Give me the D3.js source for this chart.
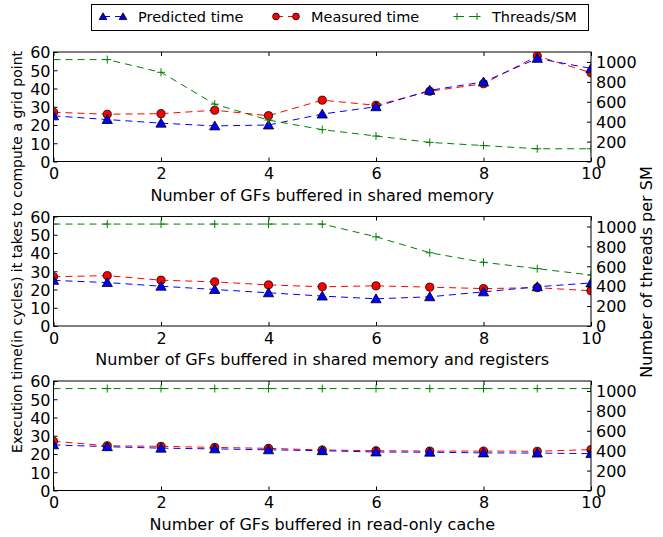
<!DOCTYPE html>
<html lang="en">
<head>
  <meta charset="utf-8">
  <title>GF buffering</title>
  <script src="https://cdn.jsdelivr.net/npm/d3@7/dist/d3.min.js"></script>
  <style type="text/css">
    body{ margin:0; background:#fff; }
    text{ font-family: "DejaVu Sans", sans-serif; }
  </style>
</head>
<body>
<script type="text/javascript">

var width = 663;
var height = 537;

// data
var gfCount = [0, 1, 2, 3, 4, 5, 6, 7, 8, 9, 10];
var panelLabels = [
  "Number of GFs buffered in shared memory",
  "Number of GFs buffered in shared memory and registers",
  "Number of GFs buffered in read-only cache"
];
var predictedTime = [
  [25, 23, 21, 19.5, 20, 26, 30, 39, 43.6, 56.5, 51],
  [25, 23.8, 21.8, 20, 18.2, 16.4, 14.9, 16, 18.7, 21.5, 23.6],
  [25, 24, 23.2, 22.8, 22.3, 21.8, 21.1, 21, 20.6, 20.5, 20.2]
];
var measuredTime = [
  [27, 25.9, 26.2, 28.1, 25.1, 33.6, 30.8, 38.5, 42.6, 57.8, 48.6],
  [27, 27.6, 25.1, 24.2, 22.5, 21.5, 22, 21.3, 20.5, 21, 19.3],
  [27, 24.5, 24.2, 23.6, 23.1, 22.2, 21.8, 21.6, 21.6, 21.5, 22.4]
];
var threadsPerSM = [
  [1024, 1024, 896, 576, 416, 320, 256, 192, 160, 128, 128],
  [1024, 1024, 1024, 1024, 1024, 1024, 896, 736, 640, 576, 512],
  [1024, 1024, 1024, 1024, 1024, 1024, 1024, 1024, 1024, 1024, 1024]
];
var xTicks = [0, 2, 4, 6, 8, 10];
var leftTicks = [0, 10, 20, 30, 40, 50, 60];
var rightTicks = [0, 200, 400, 600, 800, 1000];
var legendNames = ["Predicted time", "Measured time", "Threads/SM"];

var plotLeft = 53.5;
var plotRight = 591;
var panelTops = [52, 216.5, 381];
var panelH = 109.5;
var tickFont = 16;
var labelFont = 16;

var svg = d3.select("body")
  .append("svg")
  .attr("width", width)
  .attr("height", height);

var xScale = d3.scaleLinear().domain([0, 10]).range([plotLeft, plotRight]);

var dash = "7,5";
var triPath = d3.symbol().type(d3.symbolTriangle).size(46)();
var circPath = d3.symbol().type(d3.symbolCircle).size(52)();
var plusPath = "M-4,0H4M0,-4V4";
// smaller versions for the legend
var triSmall = d3.symbol().type(d3.symbolTriangle).size(26)();
var circSmall = d3.symbol().type(d3.symbolCircle).size(36)();
var plusSmall = "M-3.5,0H3.5M0,-3.5V3.5";

function markerStyle(sel, marker, color, isPlus){
  sel.attr("d", marker)
    .attr("fill", isPlus ? "none" : color)
    .attr("stroke", isPlus ? color : "#000")
    .attr("stroke-width", isPlus ? 1 : 0.8);
}

function drawSeries(g, vals, yScale, color, marker){
  var line = d3.line()
    .x(function(d, i){ return xScale(gfCount[i]); })
    .y(function(d){ return yScale(d); });
  g.append("path")
    .attr("d", line(vals))
    .attr("fill", "none")
    .attr("stroke", color)
    .attr("stroke-width", 1)
    .attr("stroke-dasharray", dash);
  g.selectAll(null)
    .data(vals)
    .enter()
    .append("path")
    .attr("transform", function(d, i){
      var dy = marker == triPath ? 1 : 0;
      return "translate(" + xScale(gfCount[i]) + "," + (yScale(d) + dy) + ")";
    })
    .call(markerStyle, marker, color, marker == plusPath);
}

panelTops.forEach(function(top, p){
  var bottom = top + panelH;
  var yLeft = d3.scaleLinear().domain([0, 60]).range([bottom, top]);
  var yRight = d3.scaleLinear().domain([0, 1100]).range([bottom, top]);

  var g = svg.append("g");

  var clipId = "clip" + p;
  svg.append("clipPath").attr("id", clipId)
    .append("rect")
    .attr("x", plotLeft).attr("y", top)
    .attr("width", plotRight - plotLeft).attr("height", panelH);

  var data = g.append("g").attr("clip-path", "url(#" + clipId + ")");
  drawSeries(data, measuredTime[p], yLeft, "#ff0000", circPath);
  drawSeries(data, predictedTime[p], yLeft, "#0000ff", triPath);
  drawSeries(data, threadsPerSM[p], yRight, "#008000", plusPath);

  // axes, ticks pointing inward
  var xb = g.append("g").attr("transform", "translate(0," + bottom + ")")
    .call(d3.axisBottom(xScale).tickValues(xTicks).tickSizeInner(-4).tickSizeOuter(0).tickPadding(5));
  var xt = g.append("g").attr("transform", "translate(0," + top + ")")
    .call(d3.axisTop(xScale).tickValues(xTicks).tickSizeInner(-4).tickSizeOuter(0).tickFormat(""));
  var yl = g.append("g").attr("transform", "translate(" + plotLeft + ",0)")
    .call(d3.axisLeft(yLeft).tickValues(leftTicks).tickSizeInner(-4).tickSizeOuter(0).tickPadding(3));
  var yr = g.append("g").attr("transform", "translate(" + plotRight + ",0)")
    .call(d3.axisRight(yRight).tickValues(rightTicks).tickFormat(d3.format("d"))
      .tickSizeInner(-4).tickSizeOuter(0).tickPadding(5));

  [xb, xt, yl, yr].forEach(function(a){
    a.select(".domain").remove();
    a.selectAll("text").attr("font-size", tickFont).attr("fill", "#000")
      .style("font-family", "DejaVu Sans, sans-serif");
    a.selectAll("line").attr("stroke", "#000");
  });
  xb.selectAll("text").attr("dy", "0.8em");
  yl.selectAll("text").attr("dy", "0.36em");
  yr.selectAll("text").attr("dy", "0.36em");

  g.append("rect")
    .attr("x", plotLeft).attr("y", top)
    .attr("width", plotRight - plotLeft).attr("height", panelH)
    .attr("fill", "none").attr("stroke", "#000").attr("stroke-width", 1);

  g.append("text")
    .attr("x", (plotLeft + plotRight) / 2)
    .attr("y", bottom + 39)
    .attr("text-anchor", "middle")
    .attr("font-size", labelFont)
    .text(panelLabels[p]);
});

// y labels
svg.append("text")
  .attr("transform", "translate(21.5,252) rotate(-90)")
  .attr("text-anchor", "middle")
  .attr("font-size", 14)
  .text("Execution time(in cycles) it takes to compute a grid point");
svg.append("text")
  .attr("transform", "translate(652,272) rotate(-90)")
  .attr("text-anchor", "middle")
  .attr("font-size", labelFont)
  .text("Number of threads per SM");

// legend
var legend = svg.append("g");
legend.append("rect")
  .attr("x", 91.5).attr("y", 4.5)
  .attr("width", 497).attr("height", 26)
  .attr("fill", "#fff").attr("stroke", "#000").attr("stroke-width", 1);

var legendX = [103, 276, 457];
var legendColors = ["#0000ff", "#ff0000", "#008000"];
var legendMarkers = [triSmall, circSmall, plusSmall];
legendNames.forEach(function(name, i){
  var lx = legendX[i];
  var ly = 16.5;
  legend.append("line")
    .attr("x1", lx).attr("x2", lx + 20)
    .attr("y1", ly).attr("y2", ly)
    .attr("stroke", legendColors[i]).attr("stroke-dasharray", dash);
  [lx, lx + 20].forEach(function(mx){
    legend.append("path")
      .attr("transform", "translate(" + mx + "," + (ly + (i == 0 ? 0.8 : 0)) + ")")
      .call(markerStyle, legendMarkers[i], legendColors[i], i == 2);
  });
  legend.append("text")
    .attr("x", lx + 35)
    .attr("y", ly + 5.3)
    .attr("font-size", 14.5)
    .text(name);
});

</script>
</body>
</html>
